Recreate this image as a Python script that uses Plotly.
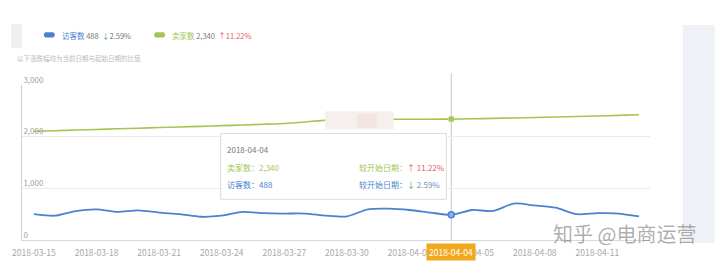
import plotly.graph_objects as go

# ---------------- data ----------------
dates = ["2018-03-15", "2018-03-16", "2018-03-17", "2018-03-18", "2018-03-19", "2018-03-20",
         "2018-03-21", "2018-03-22", "2018-03-23", "2018-03-24", "2018-03-25", "2018-03-26",
         "2018-03-27", "2018-03-28", "2018-03-29", "2018-03-30", "2018-03-31", "2018-04-01",
         "2018-04-02", "2018-04-03", "2018-04-04", "2018-04-05", "2018-04-06", "2018-04-07",
         "2018-04-08", "2018-04-09", "2018-04-10", "2018-04-11", "2018-04-12", "2018-04-13"]
visitors = [501, 470, 560, 594, 544, 575, 530, 500, 450, 470, 544, 519, 512, 512, 470,
            456, 594, 606, 581, 531, 488, 581, 562, 706, 669, 625, 500, 519, 512, 456]
sellers = [2104, 2115, 2128, 2140, 2152, 2164, 2176, 2188, 2200, 2213, 2226, 2240, 2255,
           2285, 2320, 2332, 2334, 2335, 2337, 2338, 2340, 2346, 2354, 2362, 2370, 2380,
           2390, 2400, 2412, 2424]
tick_dates = ["2018-03-15", "2018-03-18", "2018-03-21", "2018-03-24", "2018-03-27",
              "2018-03-30", "2018-04-02", "2018-04-05", "2018-04-08", "2018-04-11"]
y_ticks = [0, 1000, 2000, 3000]
y_tick_labels = ["0", "1,000", "2,000", "3,000"]
name_visitors = "访客数"
name_sellers = "卖家数"
focus_index = 20
subtitle = "以下涨跌幅均为当前日期与起始日期的比值"
compare_label = "较开始日期："
watermark = "知乎 @电商运营"

# ---------------- styling ----------------
W, H = 720, 270
L, R, T, B = 18, 650, 85, 245
BLUE = "#4a82d0"
GREEN = "#a3c653"
RED = "#e8596a"
DGREEN = "#4caf50"
GRAY = "#9a9a9a"
FONT = "Noto Sans CJK SC, sans-serif"


def px(x):
    return (x - L) / (R - L)


def py(y):
    return (B - y) / (B - T)


fv = visitors[focus_index]
fs = sellers[focus_index]
pct_v = (fv - visitors[0]) / visitors[0] * 100
pct_s = (fs - sellers[0]) / sellers[0] * 100
arrow_v = "↑" if pct_v >= 0 else "↓"
arrow_s = "↑" if pct_s >= 0 else "↓"
col_v = RED if pct_v >= 0 else DGREEN
col_s = RED if pct_s >= 0 else DGREEN
focus_date = dates[focus_index]

fig = go.Figure()
fig.add_trace(go.Scatter(x=dates, y=sellers, mode="lines", name=name_sellers,
                         line=dict(color=GREEN, width=1.6, shape="spline", smoothing=0.6),
                         hoverinfo="skip"))
fig.add_trace(go.Scatter(x=dates, y=visitors, mode="lines", name=name_visitors,
                         line=dict(color=BLUE, width=1.8, shape="spline", smoothing=0.7),
                         hoverinfo="skip"))
fig.add_trace(go.Scatter(x=[focus_date], y=[fs], mode="markers",
                         marker=dict(color=GREEN, size=6, line=dict(color="#c8dc98", width=1)),
                         hoverinfo="skip"))
fig.add_trace(go.Scatter(x=[focus_date], y=[fv], mode="markers",
                         marker=dict(color="#8fb3e6", size=6, line=dict(color=BLUE, width=1.5)),
                         hoverinfo="skip"))

shapes = []
# right gray panel
shapes.append(dict(type="rect", xref="paper", yref="paper", x0=px(683), x1=px(715),
                   y0=py(248), y1=py(23), fillcolor="#eef1f6", line=dict(width=0), layer="below"))
# blurred box top-left
shapes.append(dict(type="rect", xref="paper", yref="paper", x0=px(7), x1=px(18),
                   y0=py(47), y1=py(22), fillcolor="#efefef", line=dict(width=0)))
# crosshair
shapes.append(dict(type="line", xref="x", yref="paper", x0=focus_date, x1=focus_date,
                   y0=0, y1=py(73), line=dict(color="#c8c8c8", width=1), layer="below"))
# blurred blob
shapes.append(dict(type="rect", xref="paper", yref="paper", x0=px(323), x1=px(392),
                   y0=py(131), y1=py(112), fillcolor="#f5f0ee", line=dict(width=0)))
shapes.append(dict(type="rect", xref="paper", yref="paper", x0=px(355), x1=px(375),
                   y0=py(129), y1=py(115), fillcolor="#f6e4e3", line=dict(width=0)))
# tooltip
shapes.append(dict(type="rect", xref="paper", yref="paper", x0=px(218), x1=px(445),
                   y0=py(203), y1=py(135), fillcolor="rgba(255,255,255,0.96)",
                   line=dict(color="#dcdcdc", width=1)))
# legend pills (rounded)
for x0, col in ((39, BLUE), (150, GREEN)):
    x1 = x0 + 13
    y0, y1 = py(36), py(30.5)
    ym = (y0 + y1) / 2
    r = px(x0 + 2.5) - px(x0)
    path = (f"M {px(x0) + r},{y0} L {px(x1) - r},{y0} Q {px(x1) + r * 0.3},{ym} {px(x1) - r},{y1} "
            f"L {px(x0) + r},{y1} Q {px(x0) - r * 0.3},{ym} {px(x0) + r},{y0} Z")
    shapes.append(dict(type="path", xref="paper", yref="paper", path=path,
                       fillcolor=col, line=dict(width=0)))

ann = []


def text(x, y, s, size=7.5, color=GRAY, anchor="left", **kw):
    ann.append(dict(xref="paper", yref="paper", x=px(x), y=py(y), text=s, showarrow=False,
                    xanchor=anchor, yanchor="middle", font=dict(size=size, color=color, family=FONT),
                    **kw))


text(56, 33.5, f"<span style='color:{BLUE}'>{name_visitors}</span> {fv:,}  "
               f"<span style='color:{col_v}'>{arrow_v}</span>{abs(pct_v):.2f}%", size=7.5, color="#777")
text(167, 33.5, f"<span style='color:{GREEN}'>{name_sellers}</span> {fs:,}  "
                f"<span style='color:{col_s}'>{arrow_s}{abs(pct_s):.2f}%</span>", size=7.5, color="#777")
text(11, 57, subtitle, size=6.5, color="#bbbbbb")

# tooltip contents
text(222, 152, focus_date, size=8, color="#777")
text(222, 170, f"{name_sellers}：{fs:,}", size=8, color=GREEN)
text(355, 170, f"{compare_label}<span style='color:{col_s}'>{arrow_s} {abs(pct_s):.2f}%</span>",
     size=8, color=GREEN)
text(222, 188, f"{name_visitors}：{fv:,}", size=8, color=BLUE)
text(355, 188, f"{compare_label}<span style='color:{col_v}'>{arrow_v}</span> "
               f"<span style='color:#6f8fb8'>{abs(pct_v):.2f}%</span>", size=8, color=BLUE)

# axis pointer label
ann.append(dict(xref="x", yref="paper", x=focus_date, y=py(257), text=focus_date,
                showarrow=False, xanchor="center", yanchor="middle",
                font=dict(size=8.5, color="white", family=FONT),
                bgcolor="#f2a81d", borderpad=2))

# watermark
text(624, 238, watermark, size=20, color="rgba(120,120,120,0.6)", anchor="center")

fig.update_layout(
    width=W, height=H,
    margin=dict(l=L, r=W - R, t=T, b=H - B, pad=0),
    paper_bgcolor="white", plot_bgcolor="white",
    showlegend=False,
    shapes=shapes, annotations=ann,
    font=dict(family=FONT),
    xaxis=dict(type="date", range=["2018-03-14 10:17", "2018-04-13 12:34"],
               tickvals=tick_dates, ticktext=tick_dates,
               showgrid=False, zeroline=False, showline=True, linecolor="#d8d8d8",
               ticks="", ticklabelstandoff=5, ticklabeloverflow="allow",
               tickfont=dict(size=8.5, color="#a8a8a8", family=FONT)),
    yaxis=dict(range=[0, 3000], tickvals=y_ticks, ticktext=y_tick_labels,
               showgrid=True, gridcolor="#ebebeb", zeroline=False,
               showline=True, linecolor="#d0d0d0", ticks="",
               ticklabelposition="inside", ticklabelshift=-5, ticklabeloverflow="allow",
               tickfont=dict(size=8, color="#a0a0a0", family=FONT)),
)

fig.write_html("out.html")
